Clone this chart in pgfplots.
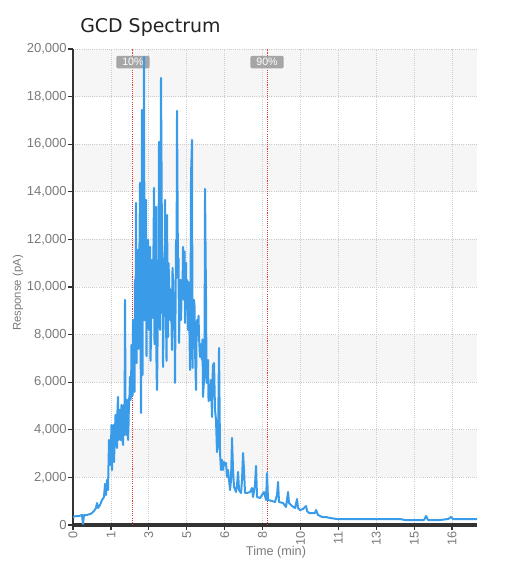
\documentclass[border=0pt]{standalone}
\usepackage{fontspec}
\setmainfont{Liberation Sans}
\newfontfamily\titlefont{DejaVu Sans}
\usepackage{pgfplots}
\usepackage{pgfplotstable}
\pgfplotsset{compat=1.18}

\definecolor{specblue}{HTML}{3A9BE8}
\definecolor{axisdark}{HTML}{333333}
\definecolor{labelgray}{HTML}{7A7A7A}
\definecolor{bandgray}{HTML}{F6F6F6}
\definecolor{gridgray}{HTML}{CDCDCD}
\definecolor{markred}{HTML}{E23B3B}
\definecolor{tagfill}{HTML}{A6A6A6}
\definecolor{titledark}{HTML}{222222}

% time (min), response (pA)
\pgfplotstableread{
t v
0 336
0.127 378
0.253 378
0.380 420
0.422 42
0.464 420
0.591 420
0.718 462
0.802 504
0.886 588
0.971 714
1.013 924
1.055 714
1.140 840
1.224 1050
1.309 1177
1.351 1723
1.393 1261
1.435 1891
1.477 1471
1.520 3572
1.562 2521
1.583 3152
1.604 3362
1.625 4202
1.646 2311
1.667 3152
1.688 3152
1.710 4202
1.731 2647
1.752 3362
1.794 4622
1.815 4202
1.836 3362
1.857 3236
1.878 4832
1.899 5379
1.921 3572
1.942 3992
1.963 4832
1.984 4832
2.005 3572
2.026 3572
2.047 5042
2.068 4622
2.090 3572
2.111 3362
2.132 5042
2.153 4202
2.174 3782
2.195 9455
2.216 5253
2.237 4412
2.258 3782
2.279 5042
2.301 5253
2.322 3572
2.343 4202
2.364 5253
2.385 5463
2.406 6219
2.427 5253
2.448 5463
2.469 7564
2.490 6387
2.511 5421
2.533 8614
2.554 7564
2.575 6723
2.596 5589
2.617 10295
2.638 7564
2.659 13530
2.680 6800
2.701 8194
2.744 11556
2.765 7400
2.786 9455
2.828 14371
2.849 8300
2.870 4706
2.912 17438
2.933 6300
2.955 11136
2.997 19665
3.018 8600
3.039 9455
3.081 13657
3.102 7100
3.124 9875
3.166 11976
3.187 9000
3.208 8194
3.250 11682
3.271 6900
3.292 7900
3.335 11136
3.356 8700
3.377 9455
3.419 14161
3.440 7600
3.461 8194
3.503 13363
3.525 6500
3.546 5673
3.588 9455
3.609 11200
3.630 16094
3.672 8194
3.693 9600
3.714 18783
3.757 11556
3.778 10800
3.799 6639
3.841 9875
3.862 9400
3.883 13657
3.926 8614
3.947 6900
3.968 13026
4.010 7900
4.031 11000
4.052 10421
4.094 8614
4.116 9900
4.137 9455
4.179 7354
4.200 10800
4.221 10295
4.263 8194
4.284 9600
4.305 5967
4.348 11976
4.369 10400
4.390 17396
4.432 10379
4.453 11200
4.474 7648
4.516 9581
4.538 10300
4.559 8614
4.601 10295
4.622 9800
4.643 11682
4.685 9455
4.707 11500
4.728 8488
4.770 11009
4.791 9300
4.812 10295
4.854 8194
4.875 10200
4.896 9455
4.939 6513
4.960 8800
4.981 14707
5.023 16178
5.044 6600
5.065 8320
5.107 9455
5.129 9200
5.150 7354
5.192 5673
5.213 7800
5.234 8614
5.276 8194
5.298 8800
5.318 7900
5.361 7059
5.382 7600
5.403 7480
5.445 6933
5.466 7800
5.487 5379
5.530 6093
5.551 7000
5.572 14119
5.614 9455
5.635 6000
5.656 5967
5.698 6933
5.720 5200
5.741 5547
5.783 5253
5.804 5800
5.825 6093
5.867 4538
5.888 6100
5.909 6723
5.952 6807
5.973 5800
5.994 4832
6.036 4412
6.078 3067
6.120 3446
6.163 7438
6.205 3025
6.247 2311
6.289 2731
6.332 2311
6.374 2647
6.416 2521
6.458 2605
6.501 2017
6.543 2311
6.627 1471
6.669 1891
6.711 3656
6.754 2311
6.796 1597
6.880 1387
6.922 1681
6.965 2227
7.007 1471
7.091 1345
7.133 1891
7.176 3025
7.218 2311
7.260 1345
7.345 1345
7.471 1387
7.556 1555
7.598 1177
7.682 1681
7.724 2479
7.767 1177
7.893 1135
7.978 1261
8.062 1387
8.147 1050
8.189 2185
8.231 1050
8.400 1008
8.526 966
8.611 1261
8.653 1807
8.695 966
8.864 924
8.991 756
9.075 1387
9.117 924
9.244 798
9.371 714
9.455 1092
9.497 714
9.582 630
9.708 672
9.835 798
9.877 588
9.962 504
10.088 504
10.215 504
10.257 630
10.342 420
10.510 336
10.679 336
10.848 294
11.143 252
11.481 252
11.903 252
12.325 252
12.747 252
13.381 252
13.803 252
14.014 210
14.436 210
14.816 210
14.900 378
14.985 210
15.491 210
15.829 252
15.956 336
16.040 252
16.546 252
17.053 252
}\gcdspec

\begin{document}
\begin{tikzpicture}
\path (0,0) rectangle (387pt,420.75pt);
\begin{axis}[
  set layers,
  at={(54.75pt,27pt)}, anchor=south west,
  scale only axis, width=303pt, height=357pt,
  xmin=0, xmax=17.05, ymin=0, ymax=20000,
  enlargelimits=false,
  axis x line*=bottom, axis y line*=left,
  x axis line style={line width=2.4pt, color=axisdark},
  y axis line style={line width=1.2pt, color=axisdark},
  tick align=outside,
  xtick={0,1.6,3.2,4.8,6.4,8,9.6,11.2,12.8,14.4,16},
  xticklabels={0,1,3,5,6,8,10,11,13,15,16},
  ytick={0,2000,...,20000},
  scaled y ticks=false,
  /pgf/number format/assume math mode=true,
  /pgf/number format/1000 sep={,},
  major tick length=3.5pt,
  xtick style={color=axisdark, line width=1pt},
  ytick style={color=axisdark, line width=1pt},
  xticklabel style={rotate=90, anchor=east, text=labelgray, font=\fontsize{9.5}{10}\selectfont, inner sep=1pt},
  yticklabel style={text=labelgray, font=\fontsize{9.8}{10}\selectfont, inner sep=1pt},
  grid=major,
  major grid style={dash pattern=on 0.7pt off 0.9pt, gridgray, line width=0.5pt},
]
\pgfonlayer{axis background}
\fill[bandgray] (rel axis cs:0,0.1) rectangle (rel axis cs:1,0.2);
\fill[bandgray] (rel axis cs:0,0.3) rectangle (rel axis cs:1,0.4);
\fill[bandgray] (rel axis cs:0,0.5) rectangle (rel axis cs:1,0.6);
\fill[bandgray] (rel axis cs:0,0.7) rectangle (rel axis cs:1,0.8);
\fill[bandgray] (rel axis cs:0,0.9) rectangle (rel axis cs:1,1.0);
\endpgfonlayer
\draw[markred, dash pattern=on 0.8pt off 0.8pt, line width=0.7pt] (axis cs:2.53,0) -- (axis cs:2.53,20000);
\draw[markred, dash pattern=on 0.8pt off 0.8pt, line width=0.7pt] (axis cs:8.19,0) -- (axis cs:8.19,20000);
\node[fill=tagfill, text=white, rounded corners=1.5pt, inner sep=1pt, minimum width=25pt, minimum height=9.5pt, font=\fontsize{8}{9}\selectfont] at (axis cs:2.53,19450) {10\%};
\node[fill=tagfill, text=white, rounded corners=1.5pt, inner sep=1pt, minimum width=25pt, minimum height=9.5pt, font=\fontsize{8}{9}\selectfont] at (axis cs:8.19,19450) {90\%};
\addplot[specblue, line width=1.5pt, line join=round, mark=none] table[x=t, y=v] {\gcdspec};
\end{axis}
\node[anchor=base west, inner sep=0, text=titledark, font=\titlefont\fontsize{14.2}{16}\selectfont] at (60pt,396pt) {GCD Spectrum};
\node[rotate=90, inner sep=0, text=labelgray, font=\fontsize{8.5}{10}\selectfont] at (13.5pt,201pt) {Response (pA)};
\node[inner sep=0, text=labelgray, font=\fontsize{9.5}{11}\selectfont] at (207pt,6.5pt) {Time (min)};
\end{tikzpicture}
\end{document}
